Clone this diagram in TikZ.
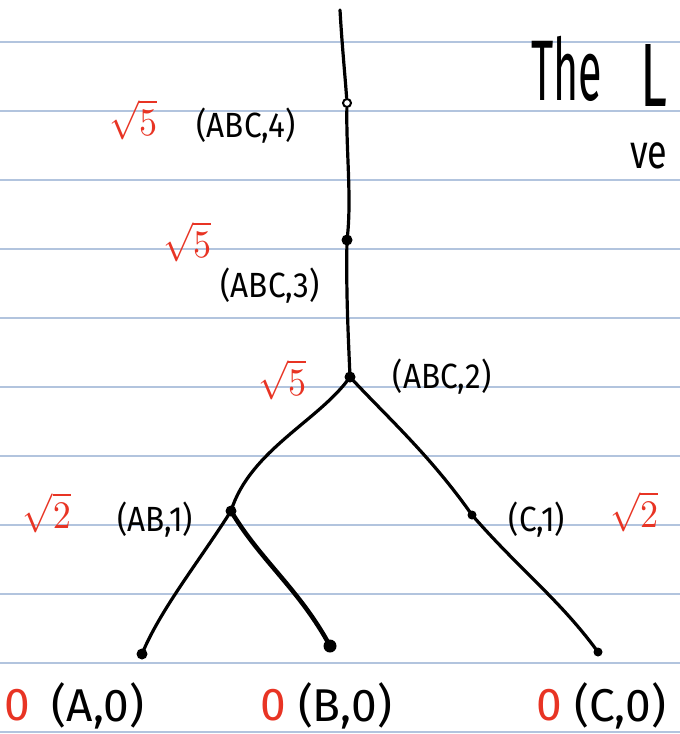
\documentclass[tikz,border=0pt]{standalone}
\usepackage{fontspec}
\usepackage{graphicx}
\setmainfont{Fira Sans}
\definecolor{ruleblue}{RGB}{178,196,222}
\definecolor{inkred}{RGB}{232,52,36}
\newcommand{\rootval}[1]{\scalebox{3.6}[3.9]{$\sqrt{#1}$}}
\begin{document}
\begin{tikzpicture}[x=1pt,y=-1pt,
  ruled/.style={ruleblue, line width=1.2pt},
  branch/.style={line width=3.2pt, line cap=round, line join=round},
  dot/.style={circle, fill=black, inner sep=0pt, minimum size=11pt},
  opendot/.style={circle, draw=black, fill=white, line width=2pt, inner sep=0pt, minimum size=8pt},
  lab/.style={font=\fontsize{35}{35}\selectfont, inner sep=0pt, xscale=0.9},
  biglab/.style={font=\fontsize{46}{46}\selectfont, inner sep=0pt},
  val/.style={text=inkred, inner sep=0pt},
  bigval/.style={text=inkred, font=\fontsize{46}{46}\selectfont, inner sep=0pt},
  title/.style={inner sep=0pt, anchor=base west}]
\useasboundingbox (0,0) rectangle (680,734);
\foreach \y in {42,111,...,732} \draw[ruled] (0,\y) -- (680,\y);
% title (cut off at the right edge, as in the reference)
\begin{scope}
\clip (0,0) rectangle (680,734);
\node[title] (t1) at (531,100) {\scalebox{0.5}[1]{\fontsize{86}{86}\selectfont The}};
\node[title] (t1b) at (640,106) {\scalebox{0.6}[1]{\fontsize{90}{90}\selectfont L}};
\node[title] (t2) at (630,168) {\scalebox{0.75}[1]{\fontsize{48}{48}\selectfont ve}};
\end{scope}
% nodes
\coordinate (top) at (340,10);
\node[opendot] (n4) at (347,103) {};
\node[dot] (n3) at (347,240) {};
\node[dot] (n2) at (350,377) {};
\node[dot] (ab1) at (231,511) {};
\node[dot, minimum size=9pt] (c1) at (472,515) {};
\node[dot] (a0) at (142,654) {};
\node[dot, minimum size=13pt] (b0) at (330,646) {};
\node[dot, minimum size=9pt] (c0) at (598,652) {};
% edges
\draw[branch] (top) .. controls (342,45) and (345,75) .. (n4);
\draw[branch] (n4) .. controls (346,150) and (352,200) .. (n3.center);
\draw[branch] (n3.center) .. controls (346,290) and (348,330) .. (n2.center);
\draw[branch] (n2.center) .. controls (320,420) and (250,450) .. (ab1.center);
\draw[branch] (n2.center) .. controls (385,415) and (430,455) .. (c1.center);
\draw[branch] (c1.center) .. controls (520,570) and (560,600) .. (c0.center);
\draw[branch] (ab1.center) .. controls (200,560) and (160,610) .. (a0.center);
\draw[branch, line width=4.5pt] (ab1.center) .. controls (260,560) and (300,590) .. (b0.center);
% labels
\node[val] (v4) at (133,120) {\rootval{5}};
\node[lab] (l4) at (246,126) {(ABC,4)};
\node[val] (v3) at (187,242) {\rootval{5}};
\node[lab] (l3) at (270,286) {(ABC,3)};
\node[val] (v2) at (282,380) {\rootval{5}};
\node[lab] (l2) at (442,377) {(ABC,2)};
\node[val] (vab) at (47,513) {\rootval{2}};
\node[lab] (lab1) at (155,520) {(AB,1)};
\node[lab] (lc1) at (537,520) {(C,1)};
\node[val] (vc1) at (634,512) {\rootval{2}};
\node[bigval] (va0) at (17,705) {0};
\node[biglab] (la0) at (98,706) {(A,0)};
\node[bigval] (vb0) at (273,705) {0};
\node[biglab] (lb0) at (345,706) {(B,0)};
\node[bigval] (vc0) at (549,705) {0};
\node[biglab] (lc0) at (620,706) {(C,0)};
\end{tikzpicture}
\end{document}
